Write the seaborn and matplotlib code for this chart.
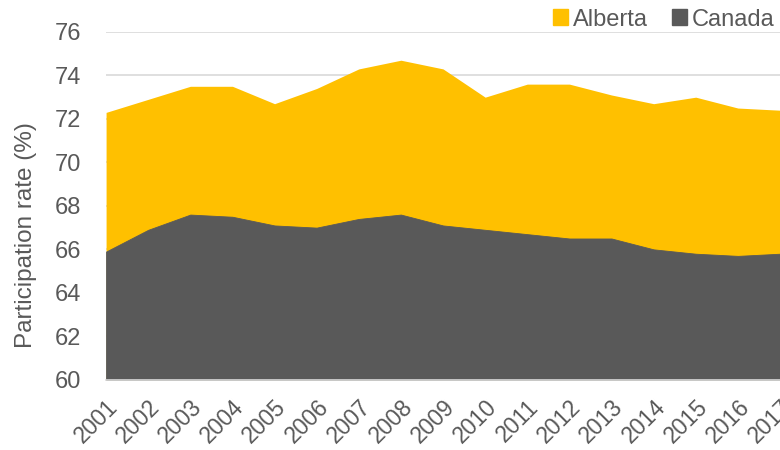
import matplotlib
matplotlib.use("Agg")
import matplotlib.pyplot as plt
import pandas as pd
import seaborn as sns
from matplotlib.patches import Patch

years = list(range(2001, 2018))
alberta = [72.3, 72.9, 73.5, 73.5, 72.7, 73.4, 74.3, 74.7, 74.3, 73.0,
           73.6, 73.6, 73.1, 72.7, 73.0, 72.5, 72.4]
canada = [65.9, 66.9, 67.6, 67.5, 67.1, 67.0, 67.4, 67.6, 67.1, 66.9,
          66.7, 66.5, 66.5, 66.0, 65.8, 65.7, 65.8]

df = pd.DataFrame({"Year": years, "Alberta": alberta, "Canada": canada})

yellow = "#FFC000"
grey = "#595959"
text_col = "#595959"

sns.set_style("white")
plt.rcParams["font.family"] = ["Liberation Sans", "DejaVu Sans"]

fig = plt.figure(figsize=(7.8, 4.5), dpi=100)
ax = fig.add_axes([0.136, 0.156, 0.864, 0.773])

# light gridlines behind the areas
ax.set_axisbelow(True)
ax.yaxis.grid(True, color="#D9D9D9", linewidth=1.2)

base = 60
ax.fill_between(df["Year"], base, df["Alberta"], color=yellow, linewidth=0, zorder=2)
ax.fill_between(df["Year"], base, df["Canada"], facecolor=grey, edgecolor=grey,
                linewidth=0.6, zorder=3)

ax.set_xlim(2001, 2017)
ax.set_ylim(60, 76)
ax.set_yticks(range(60, 77, 2))
ax.set_xticks(years)
ax.set_xticklabels([str(y) for y in years], rotation=45, ha="right",
                   rotation_mode="anchor", fontsize=16.5, color=text_col)
ax.tick_params(axis="y", labelsize=17, labelcolor=text_col, length=0, pad=18)
ax.tick_params(axis="x", length=0, pad=11)

ax.set_ylabel("Participation rate (%)", fontsize=17.5, color=text_col)
ax.yaxis.set_label_coords(37 / 780, 215 / 450, transform=fig.transFigure)

sns.despine(ax=ax, left=True, top=True, right=True)
ax.spines["bottom"].set_color("#D9D9D9")
ax.spines["bottom"].set_linewidth(1.2)
ax.spines["bottom"].set_zorder(4)

handles = [Patch(color=yellow, label="Alberta"), Patch(color=grey, label="Canada")]
fig.legend(handles=handles, loc="upper right", bbox_to_anchor=(1.02, 1.028),
           ncol=2, frameon=False, fontsize=17, labelcolor=text_col,
           handlelength=0.65, handleheight=0.65, handletextpad=0.2, columnspacing=1.0)

fig.savefig("out.png", dpi=100)
